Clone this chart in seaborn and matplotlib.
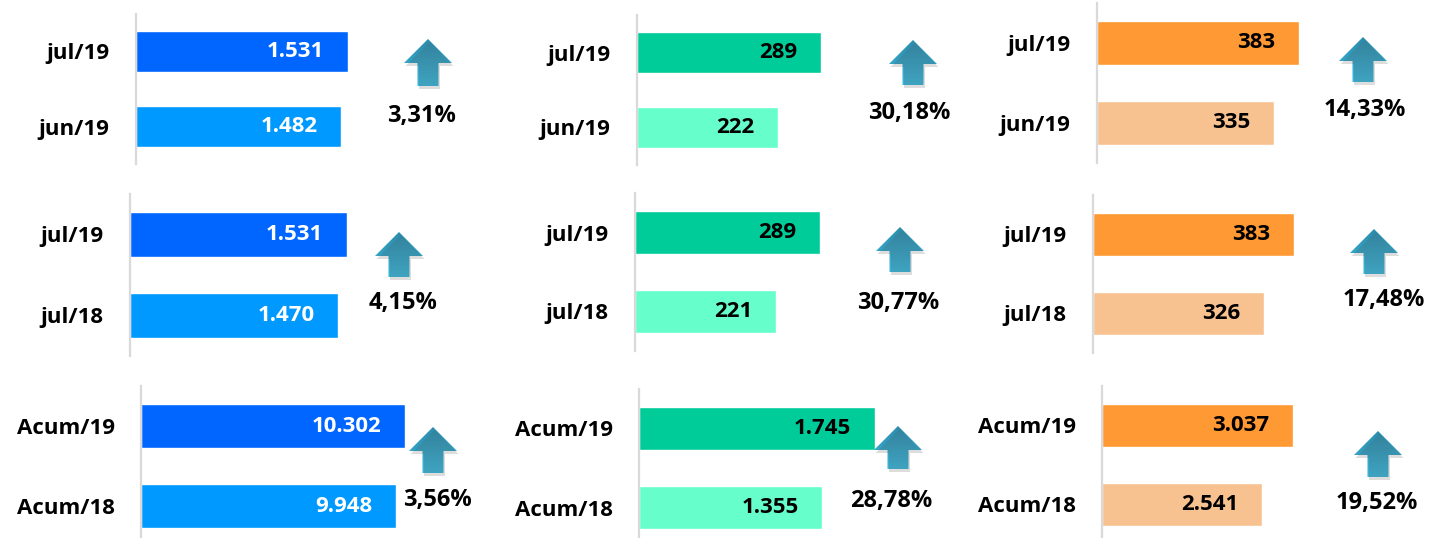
import numpy as np
import pandas as pd
import seaborn as sns
import matplotlib.pyplot as plt
from matplotlib.colors import LinearSegmentedColormap
from matplotlib.patches import Polygon

# categories per row
row_labels = [
    ["jul/19", "jun/19"],
    ["jul/19", "jul/18"],
    ["Acum/19", "Acum/18"],
]

# values per column (one list per row)
blue_vals = [[1531, 1482], [1531, 1470], [10302, 9948]]
green_vals = [[289, 222], [289, 221], [1745, 1355]]
orange_vals = [[383, 335], [383, 326], [3037, 2541]]

# variation labels
blue_pct = ["3,31%", "4,15%", "3,56%"]
green_pct = ["30,18%", "30,77%", "28,78%"]
orange_pct = ["14,33%", "17,48%", "19,52%"]

columns = [
    (blue_vals, blue_pct, ["#0066FF", "#0099FF"], "white"),
    (green_vals, green_pct, ["#00CC99", "#66FFCC"], "black"),
    (orange_vals, orange_pct, ["#FF9933", "#F8C190"], "black"),
]

# layout in pixels: (left, top, right end of longest bar, height)
boxes = [
    [(136, 14, 348, 150), (637, 15, 821, 150), (1097, 3, 1299, 160)],
    [(130, 194, 347, 162), (635, 193, 820, 158), (1093, 195, 1294, 158)],
    [(141, 386, 405, 160), (639, 389, 875, 158), (1102, 386, 1293, 158)],
]
# arrow (center x, tip y, bottom y) and percent text (x, y) in pixels
arrows = [
    [(428, 39, 86), (913, 40, 85), (1363, 37, 82)],
    [(399, 232, 277), (900, 227, 272), (1374, 229, 274)],
    [(433, 427, 473), (898, 426, 469), (1378, 431, 477)],
]
pct_pos = [
    [(422, 116), (909, 113), (1365, 110)],
    [(403, 303), (898, 303), (1384, 300)],
    [(437, 500), (891, 501), (1377, 503)],
]

W, H = 1429, 538
sns.set_style("white")
plt.rcParams["font.family"] = ["Open Sans", "DejaVu Sans"]
plt.rcParams["font.weight"] = "bold"

fig = plt.figure(figsize=(W / 100, H / 100), dpi=100)

for c, (vals, pcts, pal, txt_color) in enumerate(columns):
    for r in range(3):
        left, top, right, h = boxes[r][c]
        ax = fig.add_axes([left / W, 1 - (top + h) / H, (right - left) / W, h / H])
        df = pd.DataFrame({"periodo": row_labels[r], "valor": vals[r]})
        sns.barplot(data=df, x="valor", y="periodo", hue="periodo",
                    palette=pal, legend=False, width=0.55, orient="h",
                    saturation=1, ax=ax)
        ax.set_xlim(0, max(vals[r]))
        ax.set_ylim(1.5, -0.5)
        ax.set_xlabel("")
        ax.set_ylabel("")
        ax.set_xticks([])
        for side in ["top", "right", "bottom"]:
            ax.spines[side].set_visible(False)
        ax.spines["left"].set_color("#d9d9d9")
        ax.spines["left"].set_linewidth(1.6)
        ax.tick_params(axis="y", length=0, pad=19, labelsize=16, labelcolor="black")
        for i, v in enumerate(vals[r]):
            lbl = f"{v:,}".replace(",", ".")
            ax.annotate(lbl, xy=(v, i), xytext=(-17, 0), textcoords="offset points",
                        ha="right", va="center", fontsize=16, fontweight="bold",
                        color=txt_color)

# overlay for arrows and percentages
ov = fig.add_axes([0, 0, 1, 1])
ov.axis("off")
ov.patch.set_visible(False)
cmap = LinearSegmentedColormap.from_list("arr", ["#2b8cad", "#3ab8dc"])

for r in range(3):
    for c in range(3):
        cx, yt, yb = arrows[r][c]
        hw, hh, sw = 24, 24, 10.5
        pts = [(cx, yt), (cx + hw, yt + hh), (cx + sw, yt + hh), (cx + sw, yb),
               (cx - sw, yb), (cx - sw, yt + hh), (cx - hw, yt + hh)]
        shadow = Polygon([(x + 1.5, y + 3) for x, y in pts], closed=True,
                         facecolor="#555555", alpha=0.2, edgecolor="none")
        ov.add_patch(shadow)
        shape = Polygon(pts, closed=True, facecolor="none", edgecolor="none")
        ov.add_patch(shape)
        grad = np.linspace(0, 1, 100).reshape(-1, 1)
        im = ov.imshow(grad, extent=(cx - hw, cx + hw, yb, yt), cmap=cmap,
                       aspect="auto", origin="upper")
        im.set_clip_path(shape)
        px, py = pct_pos[r][c]
        pct = [blue_pct, green_pct, orange_pct][c][r]
        ov.text(px, py, pct, ha="center", va="center", fontsize=17,
                fontweight="bold", color="black")

ov.set_xlim(0, W)
ov.set_ylim(H, 0)

fig.savefig("out.png", dpi=100)
